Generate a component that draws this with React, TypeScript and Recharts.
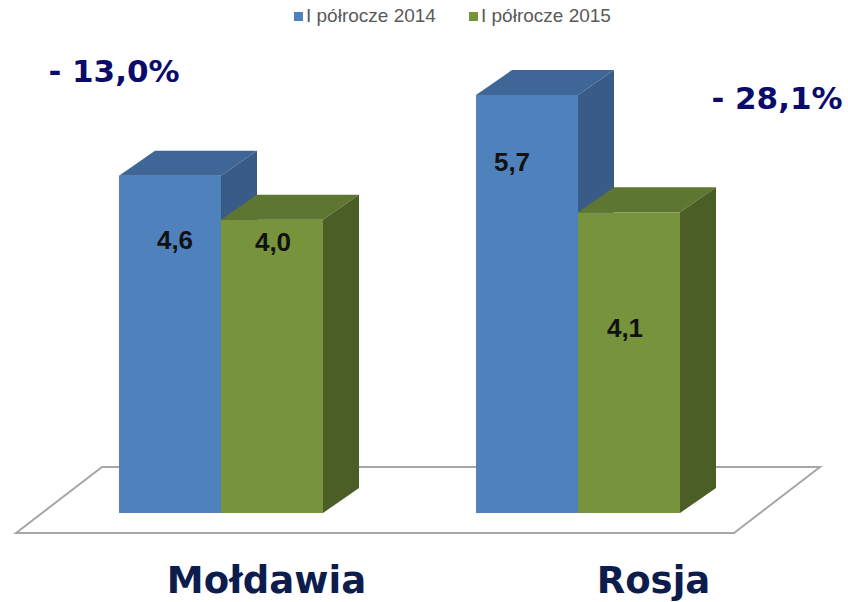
import { BarChart, Bar, XAxis, YAxis, LabelList } from 'recharts';

const categories = ['Mołdawia', 'Rosja'];
const h1_2014 = [4.6, 5.7];
const h1_2015 = [4.0, 4.1];
const seriesNames = ['I półrocze 2014', 'I półrocze 2015'];

const fmt = (v: number) => v.toFixed(1).replace('.', ',');

const data = categories.map((name, i) => {
  const change = ((h1_2015[i] - h1_2014[i]) / h1_2014[i]) * 100;
  return {
    name,
    y2014: h1_2014[i],
    y2015: h1_2015[i],
    change: `- ${fmt(Math.abs(change))}%`,
  };
});

const W = 848;
const H = 602;
const DEPTH_X = 36;
const DEPTH_Y = 25;

const BLUE = { front: '#4F81BD', top: '#3E6696', side: '#385C87' };
const GREEN = { front: '#77933C', top: '#5D7631', side: '#4A5E26' };

// hand-placed label nudges, like the original slide
const VALUE_DY: Record<string, number[]> = { y2014: [66, 69], y2015: [24, 118] };
const VALUE_DX: Record<string, number[]> = { y2014: [5, -15], y2015: [1, -4] };
const CHANGE_POS = [
  { dx: -107, y: 73 },
  { dx: 61, y: 100 },
];
const TICK_DX = [46, 76];
const LEGEND_X = [294, 469];

const changeColor = '#0B0B6B';

function box(colors: typeof BLUE) {
  return (props: any) => {
    const { x, y, width, height } = props;
    if (width == null || height == null) return null;
    const r = x + width;
    const b = y + height;
    return (
      <g>
        <rect x={x} y={y} width={width} height={height} fill={colors.front} />
        <polygon
          points={`${x},${y} ${x + DEPTH_X},${y - DEPTH_Y} ${r + DEPTH_X},${y - DEPTH_Y} ${r},${y}`}
          fill={colors.top}
        />
        <polygon
          points={`${r},${y} ${r + DEPTH_X},${y - DEPTH_Y} ${r + DEPTH_X},${b - DEPTH_Y} ${r},${b}`}
          fill={colors.side}
        />
      </g>
    );
  };
}

function valueLabel(key: string) {
  return (props: any) => {
    const { x, y, width, value, index } = props;
    return (
      <text
        x={x + width / 2 + VALUE_DX[key][index]}
        y={y + VALUE_DY[key][index]}
        textAnchor="middle"
        dominantBaseline="middle"
        fontFamily="'Liberation Sans', Arial, sans-serif"
        fontWeight="bold"
        fontSize={26}
        fill="#111"
      >
        {fmt(value)}
      </text>
    );
  };
}

const changeLabel = (props: any) => {
  const { x, width, value, index } = props;
  const p = CHANGE_POS[index];
  const cx = index === 0 ? x : x + width + DEPTH_X;
  return (
    <text
      x={cx + p.dx}
      y={p.y}
      textAnchor="middle"
      dominantBaseline="middle"
      fontFamily="'DejaVu Sans', Verdana, sans-serif"
      fontWeight="bold"
      fontSize={31}
      fill={changeColor}
    >
      {value}
    </text>
  );
};

const CategoryTick = (props: any) => {
  const { x, y, payload, index } = props;
  return (
    <text
      x={x + TICK_DX[index]}
      y={y + 72}
      textAnchor="middle"
      fontFamily="'DejaVu Sans', Verdana, sans-serif"
      fontWeight="bold"
      fontSize={37}
      fill="#0C1C4C"
    >
      {payload.value}
    </text>
  );
};

export default function App() {
  return (
    <div style={{ position: 'absolute', left: 0, top: 0, width: W, height: H, background: '#fff' }}>
      <svg width={W} height={H} style={{ position: 'absolute', left: 0, top: 0 }}>
        <polygon points="16,533 102,467 820,467 734,533" fill="#fff" stroke="#A6A6A6" strokeWidth={2} />
      </svg>
      {seriesNames.map((n, i) => (
        <div
          key={n}
          style={{
            position: 'absolute',
            top: 5,
            left: LEGEND_X[i],
            display: 'flex',
            alignItems: 'center',
            fontFamily: "'Liberation Sans', Arial, sans-serif",
            fontSize: 19,
            color: '#595959',
            whiteSpace: 'nowrap',
          }}
        >
          <span
            style={{
              display: 'inline-block',
              width: 9,
              height: 9,
              background: i === 0 ? BLUE.front : GREEN.front,
              marginRight: 3,
            }}
          />
          {n}
        </div>
      ))}
      <div style={{ position: 'absolute', left: 0, top: 0 }}>
        <BarChart
          width={W}
          height={H}
          data={data}
          margin={{ top: 73, right: 92, bottom: 0, left: 42 }}
          barSize={102}
          barGap={0}
        >
          <XAxis dataKey="name" axisLine={false} tickLine={false} tick={<CategoryTick />} interval={0} height={89} />
          <YAxis hide domain={[0, 6]} />
          <Bar dataKey="y2014" isAnimationActive={false} shape={box(BLUE)}>
            <LabelList dataKey="y2014" content={valueLabel('y2014')} />
          </Bar>
          <Bar dataKey="y2015" isAnimationActive={false} shape={box(GREEN)}>
            <LabelList dataKey="y2015" content={valueLabel('y2015')} />
            <LabelList dataKey="change" content={changeLabel} />
          </Bar>
        </BarChart>
      </div>
    </div>
  );
}
